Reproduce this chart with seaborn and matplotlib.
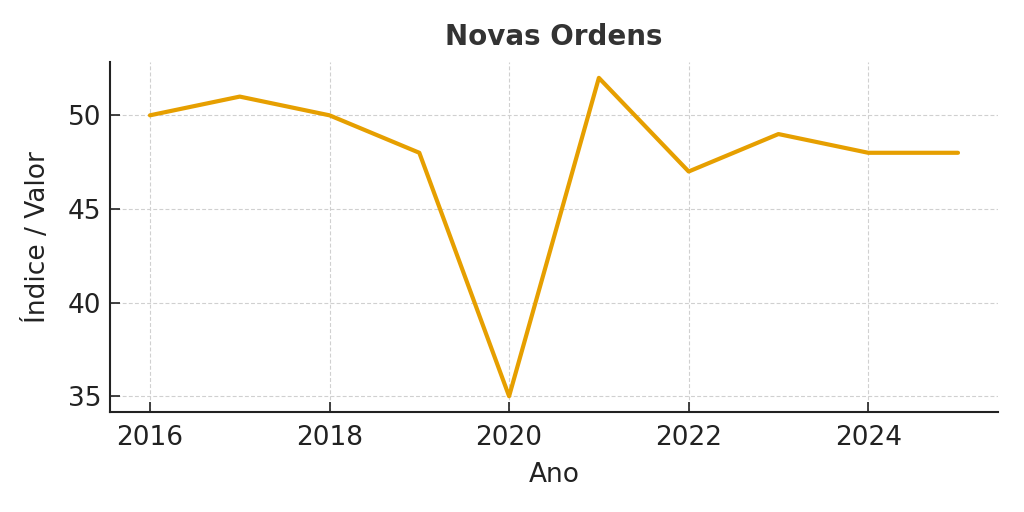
import matplotlib
matplotlib.use("Agg")
import matplotlib.pyplot as plt
import seaborn as sns
import pandas as pd

# dados do gráfico
anos = [2016, 2017, 2018, 2019, 2020, 2021, 2022, 2023, 2024, 2025]
novas_ordens = [50, 51, 50, 48, 35, 52, 47, 49, 48, 48]
y_ticks = [35, 40, 45, 50]
x_ticks = [2016, 2018, 2020, 2022, 2024]

df = pd.DataFrame({"Ano": anos, "Valor": novas_ordens})

sns.set_style("ticks")
plt.rcParams["font.family"] = ["DejaVu Sans"]

fig, ax = plt.subplots(figsize=(10.24, 5.12), dpi=100)
sns.lineplot(data=df, x="Ano", y="Valor", color="#E69F00", linewidth=3.0, ax=ax)

ax.set_title("Novas Ordens", fontsize=20, fontweight="bold", color="#333333", pad=12)
ax.set_xlabel("Ano", fontsize=19, color="#222222", labelpad=8)
ax.set_ylabel("Índice / Valor", fontsize=19, color="#222222", labelpad=12)
ax.set_yticks(y_ticks)
ax.set_xticks(x_ticks)
ax.tick_params(labelsize=19, colors="#222222", direction="in", length=7, width=1.2)
ax.tick_params(axis="x", pad=9)
ax.tick_params(axis="y", pad=6)
ax.grid(True, linestyle=(0, (3.5, 2)), color="#d0d0d0", linewidth=0.8)
for s in ["left", "bottom"]:
    ax.spines[s].set_linewidth(1.5)
    ax.spines[s].set_color("#222222")
sns.despine(ax=ax)

fig.subplots_adjust(left=0.107, right=0.975, top=0.879, bottom=0.195)
plt.savefig("out.png", dpi=100)
